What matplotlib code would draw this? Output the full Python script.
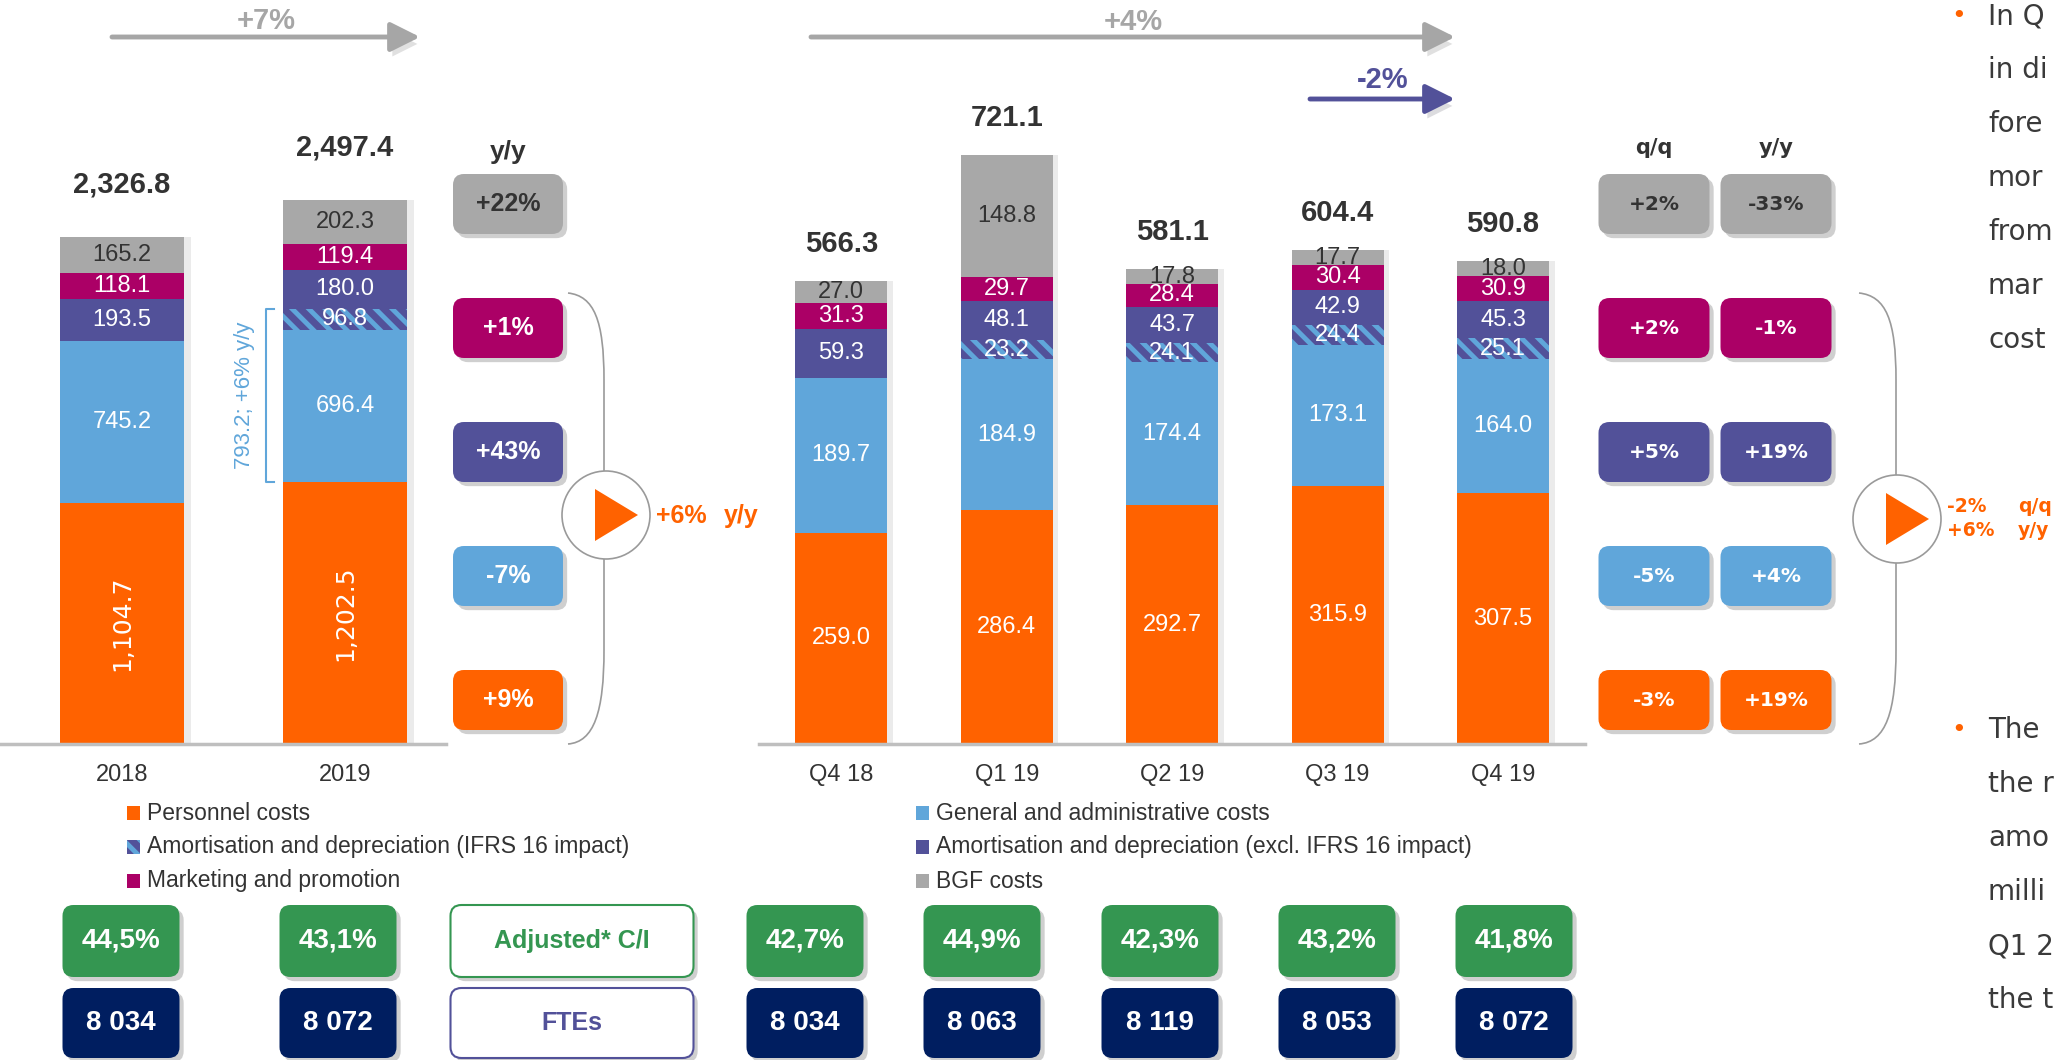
import matplotlib
matplotlib.use('Agg')
import matplotlib.pyplot as plt
import matplotlib.patheffects as pe
from matplotlib import font_manager
from matplotlib.patches import FancyBboxPatch, Rectangle, Circle, Polygon, PathPatch
from matplotlib.path import Path

# ---- data ----
years = ['2018', '2019']
quarters = ['Q4 18', 'Q1 19', 'Q2 19', 'Q3 19', 'Q4 19']

series = ['Personnel costs', 'General and administrative costs',
          'Amortisation and depreciation (IFRS 16 impact)',
          'Amortisation and depreciation (excl. IFRS 16 impact)',
          'Marketing and promotion', 'BGF costs']

personnel_y = [1104.7, 1202.5]
admin_y = [745.2, 696.4]
ifrs_y = [0.0, 96.8]
amort_y = [193.5, 180.0]
marketing_y = [118.1, 119.4]
bgf_y = [165.2, 202.3]
total_y = [2326.8, 2497.4]

personnel_q = [259.0, 286.4, 292.7, 315.9, 307.5]
admin_q = [189.7, 184.9, 174.4, 173.1, 164.0]
ifrs_q = [0.0, 23.2, 24.1, 24.4, 25.1]
amort_q = [59.3, 48.1, 43.7, 42.9, 45.3]
marketing_q = [31.3, 29.7, 28.4, 30.4, 30.9]
bgf_q = [27.0, 148.8, 17.8, 17.7, 18.0]
total_q = [566.3, 721.1, 581.1, 604.4, 590.8]

# rows top -> bottom: BGF, marketing, amortisation, G&A, personnel
yy_annual = ['+22%', '+1%', '+43%', '-7%', '+9%']
qq_q419 = ['+2%', '+2%', '+5%', '-5%', '-3%']
yy_q419 = ['-33%', '-1%', '+19%', '+4%', '+19%']

ci_labels = ['44,5%', '43,1%', '42,7%', '44,9%', '42,3%', '43,2%', '41,8%']
fte_labels = ['8 034', '8 072', '8 034', '8 063', '8 119', '8 053', '8 072']

# commentary, only the part visible at the slide edge
text_a = ['In Q', 'in di', 'fore', 'mor', 'from', 'mar', 'cost']
text_b = ['The', 'the r', 'amo', 'milli', 'Q1 2', 'the t']

# ---- style ----
ORANGE = '#FF6200'
LBLUE = '#60A6DA'
PURPLE = '#525199'
MAGENTA = '#AB0066'
GREY = '#A8A8A8'
GREEN = '#349651'
NAVY = '#001E60'
DARK = '#333333'
colors = [ORANGE, LBLUE, PURPLE, PURPLE, MAGENTA, GREY]
row_colors = [GREY, MAGENTA, PURPLE, LBLUE, ORANGE]

names = {f.name for f in font_manager.fontManager.ttflist}
MAIN = 'Liberation Sans' if 'Liberation Sans' in names else 'DejaVu Sans'
WIDE = 'DejaVu Sans'
plt.rcParams['font.family'] = [MAIN, 'DejaVu Sans']
plt.rcParams['hatch.linewidth'] = 3.5

W, H = 2058, 1060
fig = plt.figure(figsize=(W / 100, H / 100), dpi=100)
fig.patch.set_facecolor('white')

base = 744.2


def stacked(ax, cats, stacks, totals, width, lab_fs, tot_off, rot_first):
    x = list(range(len(cats)))
    # soft shadow on the right of each bar
    ax.bar([i + 0.035 for i in x], totals, width, color='#000000', alpha=0.08, zorder=1)
    bottom = [0.0] * len(cats)
    for k, vals in enumerate(stacks):
        if k == 2:
            ax.bar(x, vals, width, bottom=bottom, color=PURPLE, edgecolor=LBLUE,
                   hatch='\\\\', linewidth=0, zorder=2)
        else:
            ax.bar(x, vals, width, bottom=bottom, color=colors[k], linewidth=0, zorder=2)
        for i, v in enumerate(vals):
            if v <= 0:
                continue
            tc = DARK if k == 5 else 'white'
            if k == 0 and rot_first:
                ax.text(i, bottom[i] + v / 2, f'{v:,.1f}', rotation=90, ha='center',
                        va='center', color=tc, fontsize=18, family=WIDE, zorder=3)
            else:
                ax.text(i, bottom[i] + v / 2, f'{v:.1f}', ha='center', va='center',
                        color=tc, fontsize=lab_fs, zorder=3)
        bottom = [b + v for b, v in zip(bottom, vals)]
    for i, t in enumerate(totals):
        ax.text(i, t + tot_off, f'{t:,.1f}', ha='center', va='center',
                fontsize=21, fontweight='bold', color=DARK)
    ax.axhline(0, color='#BFBFBF', lw=2.5, clip_on=False, zorder=4)
    ax.set_xticks(x)
    ax.set_xticklabels(cats, fontsize=17, color=DARK)
    ax.tick_params(length=0, pad=14)
    ax.set_yticks([])
    for s in ax.spines.values():
        s.set_visible(False)
    ax.patch.set_alpha(0)


ann = fig.add_axes([0, 1 - base / H, 446 / W, base / H])
ann.set_xlim(-0.547, 1.453)
ann.set_ylim(0, base / 0.2181)
stacked(ann, years, [personnel_y, admin_y, ifrs_y, amort_y, marketing_y, bgf_y],
        total_y, 0.552, 17, 52 / 0.2181, True)

# bracket for G&A + IFRS 16 in 2019
lo = personnel_y[1]
hi = personnel_y[1] + admin_y[1] + ifrs_y[1]
ann.plot([0.68, 0.646, 0.646, 0.68], [hi, hi, lo, lo], color=LBLUE, lw=1.5)
ann.text(0.55, (lo + hi) / 2, f'{admin_y[1] + ifrs_y[1]:.1f}; +6% y/y', rotation=90,
         ha='center', va='center', color=LBLUE, fontsize=16)

qax = fig.add_axes([759 / W, 1 - base / H, (1585 - 759) / W, base / H])
qax.set_xlim(-0.4976, 4.496)
qax.set_ylim(0, base / 0.8172)
stacked(qax, quarters, [personnel_q, admin_q, ifrs_q, amort_q, marketing_q, bgf_q],
        total_q, 0.556, 17, 37 / 0.8172, False)

# ---- overlay in pixel coordinates ----
ov = fig.add_axes([0, 0, 1, 1])
ov.set_xlim(0, W)
ov.set_ylim(H, 0)
ov.axis('off')

shadow = [pe.withSimplePatchShadow(offset=(3, -3), shadow_rgbFace='#777777', alpha=0.35)]


def box(cx, cy, w, h, fc, text, tc, fs, family=MAIN, ec='none', lw=0):
    p = FancyBboxPatch((cx - w / 2, cy - h / 2), w, h,
                       boxstyle='round,pad=0,rounding_size=11', fc=fc, ec=ec, lw=lw,
                       path_effects=shadow)
    ov.add_patch(p)
    ov.text(cx, cy, text, ha='center', va='center', color=tc, fontsize=fs,
            fontweight='bold', family=[family, 'DejaVu Sans'])


def arrow(x0, x1, y, col, text, ty):
    ov.annotate('', xy=(x1, y), xytext=(x0, y),
                arrowprops=dict(arrowstyle='-|>,head_length=0.9,head_width=0.45',
                                color=col, lw=3.5, shrinkA=0, shrinkB=0,
                                mutation_scale=20,
                                path_effects=[pe.SimplePatchShadow(offset=(2, -5),
                                                                   alpha=0.15),
                                              pe.Normal()]))
    ov.text((x0 + x1) / 2, ty, text, ha='center', va='center', color=col,
            fontsize=21, fontweight='bold')


arrow(112, 420, 37, '#A6A6A6', '+7%', 21)
arrow(811, 1455, 37, '#A6A6A6', '+4%', 22)
arrow(1310, 1455, 99, PURPLE, '-2%', 80)

row_y = [204, 328, 452, 576, 700]

# annual y/y column
ov.text(508, 152, 'y/y', ha='center', va='center', fontsize=19, fontweight='bold', color=DARK)
for r, lab in enumerate(yy_annual):
    box(508, row_y[r], 110, 60, row_colors[r], lab, DARK if r == 0 else 'white', 18)

# quarterly q/q and y/y columns
ov.text(1654, 148, 'q/q', ha='center', va='center', fontsize=15, fontweight='bold',
        color=DARK, family=WIDE)
ov.text(1776, 148, 'y/y', ha='center', va='center', fontsize=15, fontweight='bold',
        color=DARK, family=WIDE)
for r in range(5):
    tc = DARK if r == 0 else 'white'
    box(1654, row_y[r], 111, 60, row_colors[r], qq_q419[r], tc, 14.5, WIDE)
    box(1776, row_y[r], 111, 60, row_colors[r], yy_q419[r], tc, 14.5, WIDE)


def bracket(x_end, x_mid, cx, cy, r):
    verts = [(x_end, 293), (x_mid - 10, 296), (x_mid, 320), (x_mid, 380),
             (x_mid, 650), (x_mid, 712), (x_mid - 10, 742), (x_end, 744)]
    codes = [Path.MOVETO, Path.CURVE4, Path.CURVE4, Path.CURVE4,
             Path.LINETO, Path.CURVE4, Path.CURVE4, Path.CURVE4]
    ov.add_patch(PathPatch(Path(verts, codes), fc='none', ec='#9A9A9A', lw=1.2))
    ov.add_patch(Circle((cx, cy), r, fc='white', ec='#9A9A9A', lw=1.2, zorder=3))
    ov.add_patch(Polygon([(cx - 11, cy - 26), (cx - 11, cy + 26), (cx + 32, cy)],
                         closed=True, fc=ORANGE, ec='none', zorder=4))


bracket(568, 604, 606, 515, 44)
bracket(1859, 1896, 1897, 519, 44)

ov.text(656, 516, '+6%', ha='left', va='center', color=ORANGE, fontsize=18, fontweight='bold')
ov.text(724, 516, 'y/y', ha='left', va='center', color=ORANGE, fontsize=18, fontweight='bold')
ov.text(1947, 506, '-2%', ha='left', va='center', color=ORANGE, fontsize=13.5,
        fontweight='bold', family=WIDE)
ov.text(2018, 506, 'q/q', ha='left', va='center', color=ORANGE, fontsize=13.5,
        fontweight='bold', family=WIDE)
ov.text(1947, 531, '+6%', ha='left', va='center', color=ORANGE, fontsize=13.5,
        fontweight='bold', family=WIDE)
ov.text(2018, 531, 'y/y', ha='left', va='center', color=ORANGE, fontsize=13.5,
        fontweight='bold', family=WIDE)

# legend
leg_rows = [813, 847, 881]
leg_items = [(127, 0), (127, 2), (127, 4), (916, 1), (916, 3), (916, 5)]
for n, (lx, k) in enumerate(leg_items):
    ly = leg_rows[n % 3]
    if k == 2:
        ov.add_patch(Rectangle((lx, ly - 7), 13, 14, fc=PURPLE, ec=LBLUE, hatch='\\\\', lw=0))
    else:
        ov.add_patch(Rectangle((lx, ly - 7), 13, 14, fc=colors[k], ec='none'))
    ov.text(lx + 20, ly, series[k], ha='left', va='center', fontsize=16.5, color=DARK)

# adjusted C/I and FTE boxes
box_x = [121, 338, 805, 982, 1160, 1337, 1514]
for i, cx in enumerate(box_x):
    w = 117
    box(cx, 941, w, 72, GREEN, ci_labels[i], 'white', 20)
    box(cx, 1023, w, 70, NAVY, fte_labels[i], 'white', 20)
box(572, 941, 243, 72, 'white', 'Adjusted* C/I', GREEN, 18, ec=GREEN, lw=1.5)
box(572, 1023, 243, 70, 'white', 'FTEs', PURPLE, 18, ec=PURPLE, lw=1.5)

# commentary bullets at the right edge
for j, line in enumerate(text_a):
    ov.text(1988, 16 + 54 * j, line, ha='left', va='center', fontsize=20,
            color='#3A3A3A', family=WIDE)
for j, line in enumerate(text_b):
    ov.text(1988, 730 + 54 * j, line, ha='left', va='center', fontsize=20,
            color='#3A3A3A', family=WIDE)
ov.text(1959, 16, '•', ha='center', va='center', fontsize=18, color=ORANGE, family=WIDE)
ov.text(1959, 730, '•', ha='center', va='center', fontsize=18, color=ORANGE, family=WIDE)

fig.savefig('out.png', dpi=100)
